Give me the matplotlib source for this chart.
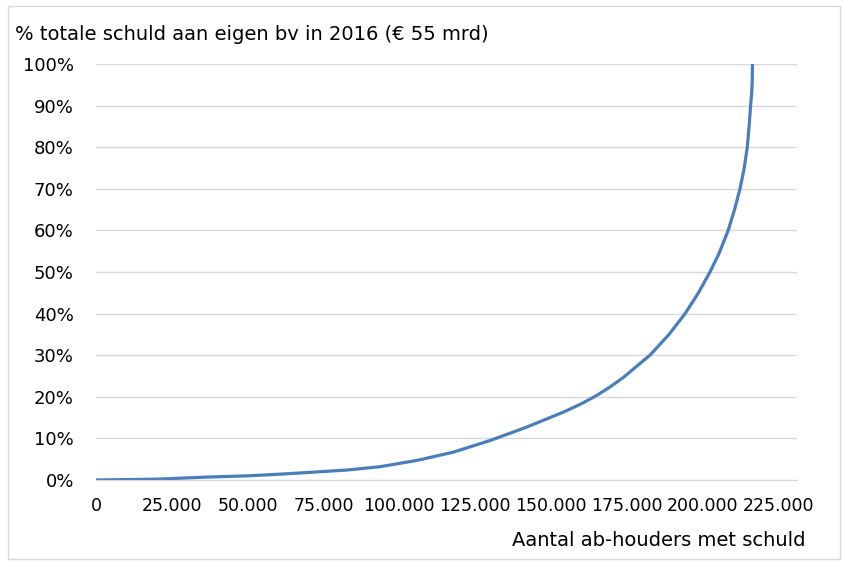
import matplotlib.pyplot as plt
from matplotlib.patches import Rectangle
from matplotlib.ticker import FuncFormatter

# cumulative share of total debt vs number of holders
holders = [0, 20000, 36600, 50000, 60700, 72000, 82800, 93700, 105800, 117900,
           130000, 142000, 154100, 160000, 165100, 170000, 174000, 182700, 189000,
           194300, 198700, 202500, 205500, 208500, 210600, 212400, 213800, 214800,
           215400, 215900, 216250, 216450, 216500]
debt_pct = [0, 0.2, 0.7, 1.0, 1.4, 1.9, 2.4, 3.2, 4.7, 6.7,
            9.5, 12.7, 16.3, 18.3, 20.3, 22.6, 24.7, 30, 35,
            40, 45, 50, 54.5, 60, 65, 70, 75, 80,
            85, 90, 93, 96, 100]

x_ticks = [0, 25000, 50000, 75000, 100000, 125000, 150000, 175000, 200000, 225000]
y_ticks = [0, 10, 20, 30, 40, 50, 60, 70, 80, 90, 100]

fig = plt.figure(figsize=(8.44, 5.65), dpi=100)
ax = fig.add_axes([96/844, 85/565, 701/844, 416/565])

ax.plot(holders, debt_pct, color='#4A7EBB', lw=2.3, solid_joinstyle='round')

ax.set_xlim(0, 231200)
ax.set_ylim(0, 100)
ax.set_xticks(x_ticks)
ax.set_yticks(y_ticks)
ax.xaxis.set_major_formatter(FuncFormatter(lambda v, p: f"{int(v):,}".replace(",", ".")))
ax.yaxis.set_major_formatter(FuncFormatter(lambda v, p: f"{int(v)}%"))
ax.grid(axis='y', color='#d9d9d9', lw=1)
ax.set_axisbelow(True)
for s in ['top', 'right', 'left']:
    ax.spines[s].set_visible(False)
ax.spines['bottom'].set_color('#d9d9d9')
ax.tick_params(axis='both', length=0, labelsize=13, colors='black')
ax.tick_params(axis='x', pad=12, labelsize=12.5)
ax.tick_params(axis='y', pad=16)

fig.text(15/844, 1 - 35/565, "% totale schuld aan eigen bv in 2016 (€ 55 mrd)",
         fontsize=14, va='center', ha='left')
fig.text(806/844, 1 - 540/565, "Aantal ab-houders met schuld",
         fontsize=14, va='center', ha='right')

fig.patches.append(Rectangle((8/844, 6/565), 832/844, 553/565, transform=fig.transFigure,
                             fill=False, edgecolor='#d9d9d9', lw=1))

fig.savefig('out.png', dpi=100)
